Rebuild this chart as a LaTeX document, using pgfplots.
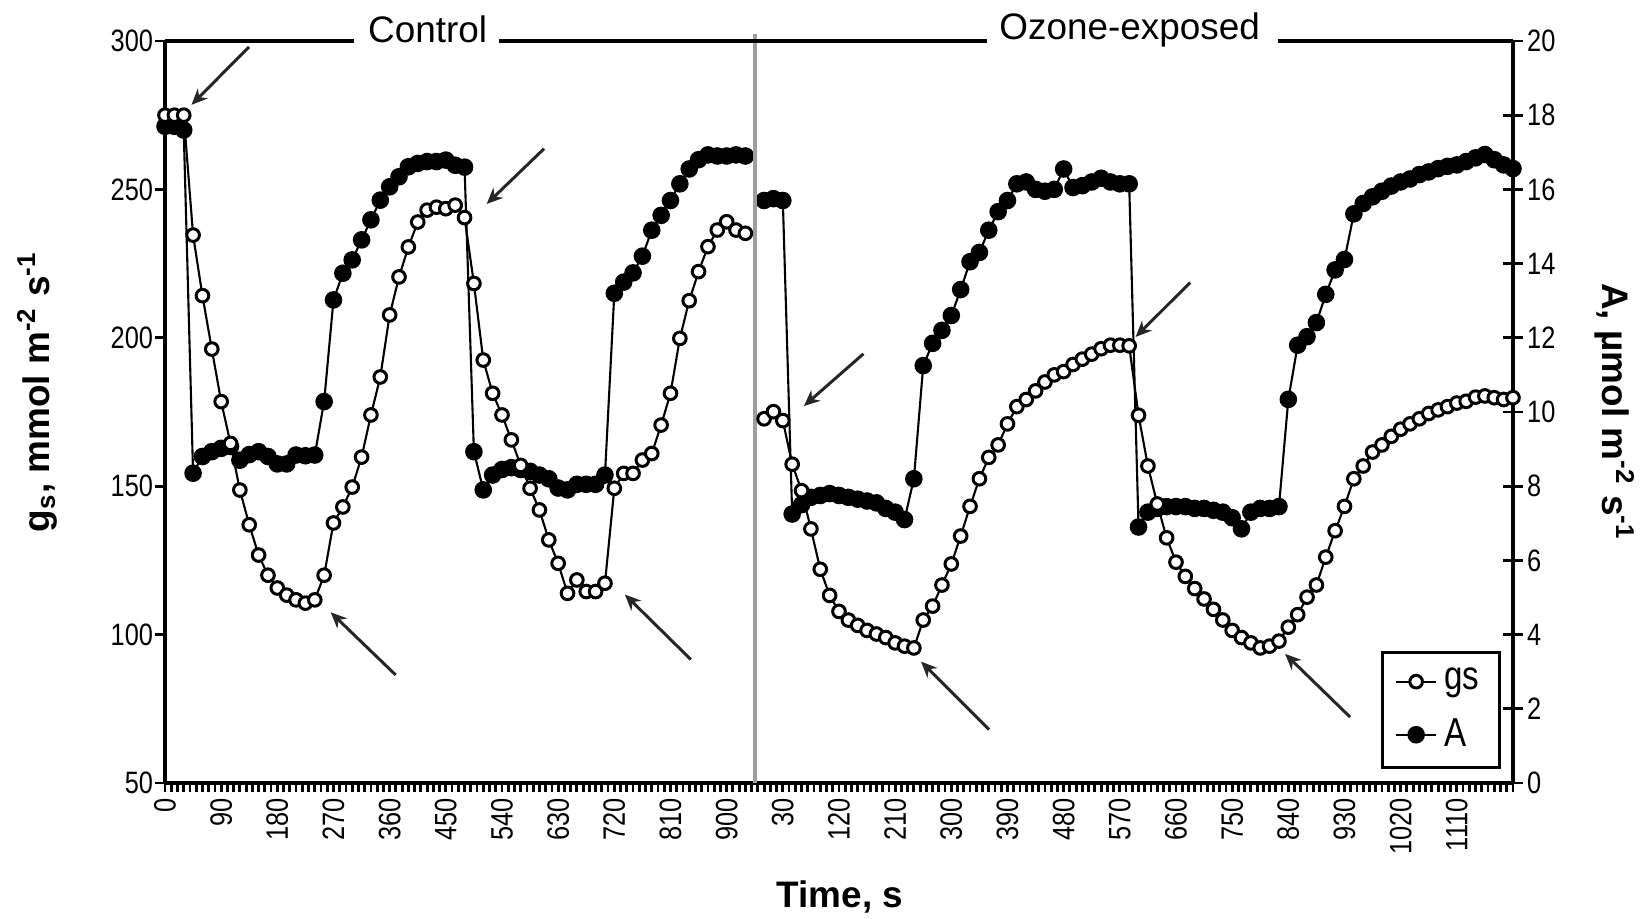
\documentclass[border=0pt]{standalone}
\usepackage{fontspec}
\setmainfont{Liberation Sans}
\newfontfamily\narrow{Liberation Sans}[FakeStretch=0.82]
\usepackage{pgfplots}
\pgfplotsset{compat=1.18}
\usepackage{pgfplotstable}
\usetikzlibrary{arrows.meta}

\newcommand\tickfont{\narrow\fontsize{8.8}{10}\selectfont}

% Control leaf: time (s), gs (mmol m-2 s-1), A (umol m-2 s-1)
\pgfplotstableread{
t gs A
0 275 17.7
15 275 17.7
30 275 17.6
45 234.6 8.35
60 214.2 8.8
75 196.2 8.93
90 178.5 9.02
105 164.4 9.07
120 148.7 8.7
135 137 8.85
150 126.8 8.93
165 120 8.8
180 115.7 8.6
195 113.3 8.6
210 111.7 8.84
225 110.6 8.82
240 111.7 8.84
255 120 10.28
270 137.6 13.02
285 143 13.74
300 149.7 14.1
315 159.8 14.64
330 174 15.18
345 186.8 15.71
360 207.7 16.07
375 220.5 16.34
390 230.6 16.61
405 239 16.7
420 243 16.75
435 244 16.75
450 243.5 16.79
465 244.7 16.65
480 240.5 16.6
495 218.3 8.93
510 192.5 7.9
525 181.3 8.3
540 174 8.45
555 165.6 8.5
570 157 8.45
585 149.3 8.4
600 142 8.3
615 131.9 8.2
630 124 7.95
645 113.9 7.9
660 118.4 8.05
675 114.5 8.05
690 114.5 8.05
705 117.3 8.3
720 149.3 13.2
735 154.3 13.5
750 154.3 13.75
765 158.8 14.2
780 161 14.9
795 170.6 15.3
810 181.3 15.7
825 199.8 16.15
840 212.5 16.55
855 222.3 16.8
870 230.7 16.93
885 236.3 16.9
900 239.1 16.9
915 236.3 16.93
930 235.2 16.9
}\control

% Ozone-exposed leaf: time (s), gs, A
\pgfplotstableread{
t gs A
0 172.7 15.7
15 175.1 15.75
30 172.1 15.7
45 157.4 7.25
60 148.5 7.5
75 135.6 7.7
90 122 7.75
105 113.2 7.8
120 107.8 7.75
135 104.9 7.7
150 103.1 7.65
165 101.4 7.6
180 100.2 7.55
195 99 7.4
210 97.2 7.3
225 96.1 7.1
240 95.5 8.2
255 104.9 11.25
270 109.6 11.85
285 116.7 12.2
300 123.8 12.6
315 133.2 13.3
330 143.2 14.05
345 152.5 14.3
360 159.7 14.9
375 163.9 15.4
390 171 15.7
405 176.8 16.15
420 179.2 16.2
435 182.1 16.0
450 185.1 15.95
465 187.5 16.0
480 188.6 16.55
495 191 16.05
510 192.8 16.1
525 194.5 16.2
540 196.3 16.3
555 197.5 16.2
570 197.5 16.15
585 197.3 16.15
600 173.9 6.9
615 156.8 7.3
630 144 7.4
645 132.6 7.45
660 124.4 7.45
675 119.6 7.45
690 115.5 7.4
705 112 7.4
720 108.5 7.35
735 104.9 7.3
750 101.4 7.15
765 99 6.85
780 97.2 7.3
795 95.5 7.4
810 96.1 7.4
825 97.8 7.45
840 102.5 10.34
855 106.7 11.8
870 112.6 12.03
885 116.7 12.41
900 126.1 13.17
915 135 13.83
930 143.2 14.11
945 152.5 15.34
960 156.8 15.62
975 161.5 15.8
990 163.9 15.95
1005 166.8 16.09
1020 169.2 16.2
1035 171 16.28
1050 172.7 16.4
1065 174.5 16.47
1080 175.7 16.56
1095 176.8 16.62
1110 178 16.66
1125 178.6 16.75
1140 180 16.85
1155 180.4 16.94
1170 179.8 16.8
1185 179.2 16.66
1200 179.8 16.56
}\ozone

\pgfplotsset{
  gsstyle/.style={black, line width=0.6pt, mark=*, mark size=1.8pt,
    mark options={fill=white, draw=black, line width=0.85pt, solid}},
  Astyle/.style={black, line width=0.6pt, mark=*, mark size=2.2pt,
    mark options={fill=black, draw=black, solid}},
}

\begin{document}
\begin{tikzpicture}
\useasboundingbox (-1.65cm,-1.36cm) rectangle (14.76cm,7.83cm);

% ---------- A axis (right) ----------
\begin{axis}[
  at={(0,0)}, anchor=south west, scale only axis,
  width=13.48cm, height=7.42cm,
  xmin=0, xmax=2160, ymin=0, ymax=20,
  axis x line=none, axis y line*=right,
  y axis line style={line width=0.9pt, -},
  ytick={0,2,...,20},
  tick align=center, major tick length=2mm,
  every tick/.style={black, line width=0.8pt},
  yticklabel style={font=\tickfont, anchor=west, inner sep=1pt},
  /pgf/number format/assume math mode=true,
  clip=false,
]
\addplot[Astyle] table[x=t, y=A] {\control};
\addplot[Astyle] table[x expr=\thisrow{t}+960, y=A] {\ozone};
\end{axis}

% ---------- gs axis (left) ----------
\begin{axis}[
  at={(0,0)}, anchor=south west, scale only axis,
  width=13.48cm, height=7.42cm,
  xmin=0, xmax=2160, ymin=50, ymax=300,
  axis x line*=bottom, axis y line*=left,
  x axis line style={line width=0.9pt, -},
  y axis line style={line width=0.9pt, -},
  xtick={0,90,...,2070},
  xticklabels={0,90,180,270,360,450,540,630,720,810,900,30,120,210,300,390,480,570,660,750,840,930,1020,1110},
  minor xtick={0,10,...,2160},
  ytick={50,100,...,300},
  tick align=outside,
  major tick length=0.95mm, minor tick length=0.9mm,
  every tick/.style={black, line width=0.8pt},
  major x tick style={draw=none},
  xticklabel style={rotate=90, anchor=east, font=\tickfont, inner sep=1.5pt},
  yticklabel style={font=\tickfont, inner sep=0.5pt},
  /pgf/number format/assume math mode=true,
  clip=false,
  legend image code/.code={\draw[mark repeat=2,mark phase=2,#1] plot coordinates {(0cm,0cm) (0.2cm,0cm) (0.4cm,0cm)};},
  legend style={at={(0.991,0.019)}, anchor=south east, draw=black, line width=0.9pt,
    font=\narrow\fontsize{11.5}{12}\selectfont, inner xsep=1.3mm, inner ysep=0.9mm, row sep=0.9mm},
  legend cell align=left,
]
% divider between the two leaves
\draw[black!38, line width=1.1pt] (axis cs:945,50) -- (axis cs:945,302.4);

\addplot[gsstyle] table[x=t, y=gs] {\control};
\addlegendentry{gs}
\addplot[gsstyle, forget plot] table[x expr=\thisrow{t}+960, y=gs] {\ozone};
\addlegendimage{Astyle}
\addlegendentry{A}

% top frame line with the two panel titles
\draw[line width=0.9pt] (axis cs:0,300) -- (axis cs:303,300);
\draw[line width=0.9pt] (axis cs:536,300) -- (axis cs:1317,300);
\draw[line width=0.9pt] (axis cs:1783,300) -- (axis cs:2160,300);
\node[anchor=base, font=\fontsize{10.5}{12}\selectfont, inner sep=0pt] at (axis cs:420.8,299.5) {Control};
\node[anchor=base, font=\fontsize{10.5}{12}\selectfont, inner sep=0pt] at (axis cs:1545.7,300.5) {Ozone-exposed};

% arrows
\begin{scope}[black!85, line width=0.85pt, -{Stealth[length=1.6mm, width=1.4mm]}]
\draw (axis cs:134.6,298.0) -- (axis cs:42.5,278.5);
\draw (axis cs:607.4,263.7) -- (axis cs:515.5,245.1);
\draw (axis cs:369.6,86.4) -- (axis cs:265.5,107.5);
\draw (axis cs:842.6,91.6) -- (axis cs:736.9,113.5);
\draw (axis cs:1119.2,194.6) -- (axis cs:1023.7,177.0);
\draw (axis cs:1642.6,218.6) -- (axis cs:1555.4,200.3);
\draw (axis cs:1320.5,68.0) -- (axis cs:1211.5,90.9);
\draw (axis cs:1899.0,72.2) -- (axis cs:1794.9,93.5);
\end{scope}

% axis titles
\node[rotate=90, font=\bfseries\fontsize{10.5}{12}\selectfont] at (rel axis cs:-0.095,0.527)
  {g\textsubscript{s}, mmol m\textsuperscript{-2} s\textsuperscript{-1}};
\node[rotate=-90, font=\bfseries\fontsize{10.5}{12}\selectfont] at (rel axis cs:1.0752,0.5)
  {A, µmol m\textsuperscript{-2} s\textsuperscript{-1}};
\node[font=\bfseries\fontsize{10.5}{12}\selectfont] at (rel axis cs:0.5007,-0.1536) {Time, s};
\end{axis}
\end{tikzpicture}
\end{document}
